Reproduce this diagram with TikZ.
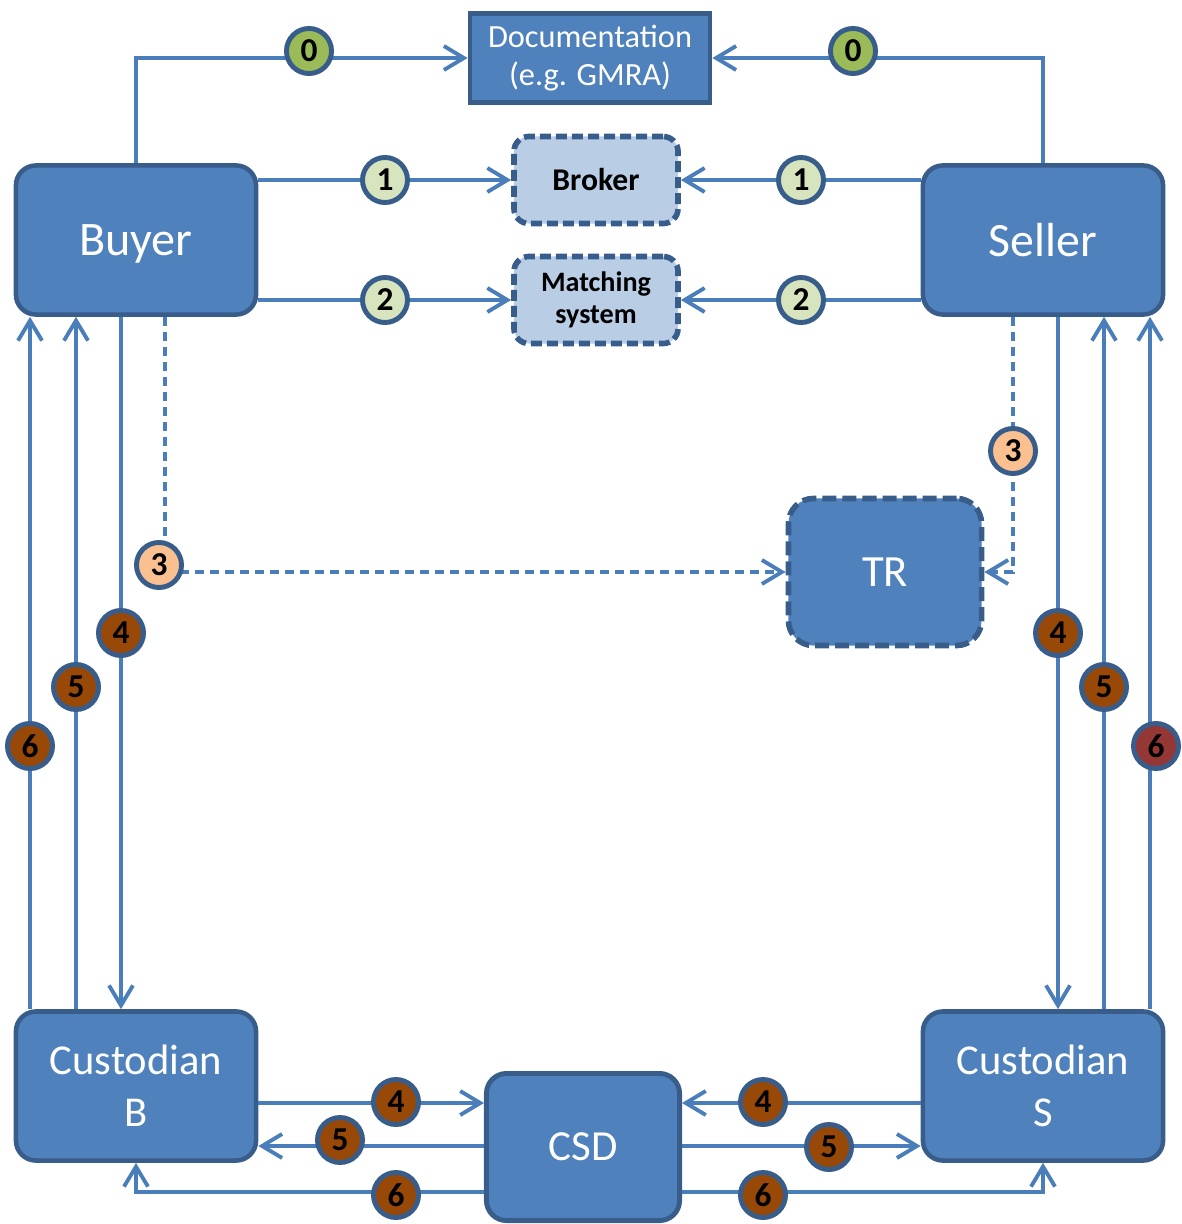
\documentclass[tikz,border=0pt]{standalone}
\usepackage{fontspec}
\setmainfont{Carlito}
\usetikzlibrary{arrows.meta}
\definecolor{boxblue}{HTML}{4F81BD}
\definecolor{boxline}{HTML}{385D8A}
\definecolor{flowblue}{HTML}{4A7EBB}
\definecolor{paleblue}{HTML}{B9CDE5}
\definecolor{tgreen}{HTML}{9BBB59}
\definecolor{tpale}{HTML}{D7E4BD}
\definecolor{tpeach}{HTML}{FAC090}
\definecolor{tbrown}{HTML}{984807}
\definecolor{tred}{HTML}{953735}
\begin{document}
\begin{tikzpicture}[x=0.01cm,y=-0.01cm,
		>={Straight Barb[length=2mm,width=2.4mm]},
		party/.style={draw=boxline,line width=1.3pt,fill=boxblue,rounded corners=0.2cm,text=white,
			minimum width=2.4cm,minimum height=1.49cm,align=center},
		docbox/.style={draw=boxline,line width=1.3pt,fill=boxblue,text=white,
			minimum width=2.4cm,minimum height=0.88cm,align=center,font=\fontsize{9.2}{10.8}\selectfont},
		venue/.style={draw=boxline,line width=1.6pt,fill=paleblue,rounded corners=0.15cm,
			dash pattern=on 0.11cm off 0.05cm,minimum width=1.64cm,minimum height=0.87cm,align=center},
		repo/.style={party,line width=1.4pt,minimum width=1.93cm,minimum height=1.47cm},
		flow/.style={->,draw=flowblue,line width=1.1pt},
		report/.style={flow,dash pattern=on 0.09cm off 0.06cm},
		tag/.style={circle,draw=boxline,line width=1.4pt,minimum size=0.45cm,inner sep=0pt,
			font=\fontsize{9.5}{9.5}\selectfont\bfseries},
		tag0/.style={tag,fill=tgreen},
		tag1/.style={tag,fill=tpale},
		tag3/.style={tag,fill=tpeach},
		tag4/.style={tag,fill=tbrown},
		tag6/.style={tag,fill=tred}]
		\useasboundingbox (0,0) rectangle (1181,1224);
		\node [docbox] (doc) at (590,58) {Documentation\\(e.g. GMRA)};
		\node [party,font=\fontsize{13.7}{15}\selectfont,text depth=0pt] (buyer) at (136,240) {Buyer};
		\node [party,font=\fontsize{13.6}{15}\selectfont] (seller) at (1043,240) {Seller};
		\node [venue,font=\fontsize{9}{10}\selectfont\bfseries] (broker) at (596,180) {Broker};
		\node [venue,font=\fontsize{8}{9.1}\selectfont\bfseries] (match) at (596,300) {Matching\\system};
		\node [repo,line width=1.6pt,dash pattern=on 0.14cm off 0.06cm,rounded corners=0.25cm,
			font=\fontsize{12.7}{14}\selectfont] (tr) at (885,572) {TR};
		\node [party,font=\fontsize{12.1}{14.8}\selectfont] (custb) at (136,1086) {Custodian\\B};
		\node [party,font=\fontsize{12.1}{14.8}\selectfont] (custs) at (1043,1086) {Custodian\\S};
		\node [repo,font=\fontsize{12.2}{14}\selectfont] (csd) at (583,1147) {CSD};
		\coordinate (lane b6) at (30,0);
		\coordinate (lane b5) at (76,0);
		\coordinate (lane b4) at (121,0);
		\coordinate (lane b3) at (165,0);
		\coordinate (lane s3) at (1013,0);
		\coordinate (lane s4) at (1058,0);
		\coordinate (lane s5) at (1104,0);
		\coordinate (lane s6) at (1150,0);
		\coordinate (row4) at (0,1103);
		\coordinate (row5) at (0,1146);
		\coordinate (row6) at (0,1192);
		\draw [flow] (buyer.north) |- (doc.west);
		\draw [flow] (seller.north) |- (doc.east);
		\draw [flow] (buyer.east |- broker.west) -- (broker.west);
		\draw [flow] (seller.west |- broker.east) -- (broker.east);
		\draw [flow] (buyer.east |- match.west) -- (match.west);
		\draw [flow] (seller.west |- match.east) -- (match.east);
		\draw [report] (buyer.south -| lane b3) |- (tr.west);
		\draw [report] (seller.south -| lane s3) |- (tr.east);
		\draw [flow] (custb.north -| lane b6) -- (buyer.south -| lane b6);
		\draw [flow] (custb.north -| lane b5) -- (buyer.south -| lane b5);
		\draw [flow] (buyer.south -| lane b4) -- (custb.north -| lane b4);
		\draw [flow] (seller.south -| lane s4) -- (custs.north -| lane s4);
		\draw [flow] (custs.north -| lane s5) -- (seller.south -| lane s5);
		\draw [flow] (custs.north -| lane s6) -- (seller.south -| lane s6);
		\draw [flow] (custb.east |- row4) -- (csd.west |- row4);
		\draw [flow] (csd.west |- row5) -- (custb.east |- row5);
		\draw [flow] (csd.west |- row6) -| (custb.south);
		\draw [flow] (custs.west |- row4) -- (csd.east |- row4);
		\draw [flow] (csd.east |- row5) -- (custs.west |- row5);
		\draw [flow] (csd.east |- row6) -| (custs.south);
		\node [tag0] (b0) at (309,51) {0};
		\node [tag0] (s0) at (853,51) {0};
		\node [tag1] (b1) at (385,180) {1};
		\node [tag1] (s1) at (801,180) {1};
		\node [tag1] (b2) at (385,300) {2};
		\node [tag1] (s2) at (801,300) {2};
		\node [tag3] (b3) at (159,565) {3};
		\node [tag3] (s3) at (1013,451) {3};
		\node [tag4] (b4) at (121,633) {4};
		\node [tag4] (b5) at (76,687) {5};
		\node [tag4] (b6) at (30,746) {6};
		\node [tag4] (s4) at (1058,633) {4};
		\node [tag4] (s5) at (1104,687) {5};
		\node [tag6] (s6) at (1156,746) {6};
		\node [tag4] (cb4) at (396,1102) {4};
		\node [tag4] (cb5) at (340,1140) {5};
		\node [tag4] (cb6) at (396,1195) {6};
		\node [tag4] (cs4) at (763,1102) {4};
		\node [tag4] (cs5) at (829,1147) {5};
		\node [tag4] (cs6) at (763,1195) {6};
	\end{tikzpicture}
\end{document}
